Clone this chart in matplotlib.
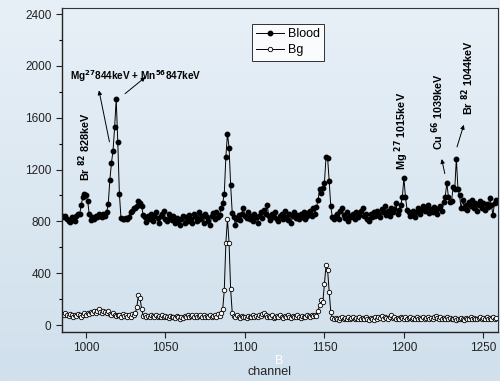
import numpy as np
import matplotlib
matplotlib.use('Agg')
import matplotlib.pyplot as plt

plt.rcParams['font.family'] = ['Liberation Sans', 'DejaVu Sans']

# channels 985 .. 1258
CH_START = 985

blood = [
    840, 830, 845, 820, 800, 795, 830, 815, 805, 845,
    860, 855, 925, 990, 1010, 1000, 960, 860, 810, 830,
    820, 845, 835, 860, 845, 830, 860, 845, 870, 935,
    1120, 1250, 1345, 1525, 1745, 1410, 1015, 825, 820, 815,
    825, 820, 835, 870, 880, 900, 905, 920, 960, 940,
    915, 850, 830, 795, 845, 815, 860, 800, 840, 870,
    825, 790, 845, 860, 880, 820, 800, 855, 835, 810,
    845, 790, 825, 800, 770, 815, 840, 790, 830, 805,
    850, 820, 785, 860, 830, 800, 875, 815, 840, 790,
    855, 830, 800, 775, 840, 865, 815, 870, 830, 850,
    900, 940, 1015, 1300, 1475, 1370, 1080, 865, 830, 775,
    820, 850, 810, 860, 905, 840, 825, 870, 815, 845,
    800, 855, 830, 790, 845, 870, 825, 890, 860, 925,
    840, 810, 860, 830, 875, 815, 800, 845, 860, 820,
    880, 835, 810, 855, 790, 840, 870, 825, 850, 815,
    860, 835, 875, 820, 845, 870, 880, 845, 900, 860,
    910, 965, 1050, 1020, 1060, 1100, 1295, 1290, 1110, 915,
    830, 820, 845, 860, 815, 880, 905, 850, 825, 870,
    800, 845, 830, 860, 815, 870, 835, 850, 880, 905,
    840, 860, 820, 800, 855, 830, 870, 845, 880, 860,
    830, 895, 870, 915, 850, 880, 840, 905, 870, 895,
    940, 860, 885, 925, 985, 1135, 985, 890, 870, 845,
    850, 880, 835, 870, 900, 860, 890, 915, 880, 905,
    930, 865, 895, 870, 910, 885, 860, 900, 915, 880,
    950, 990, 1095, 990, 950, 960, 1065, 1050, 1285, 1050,
    1000, 900, 965, 905, 930, 885, 950, 920, 965, 900,
    945, 880, 925, 960, 905, 940, 890, 935, 910, 980,
    925, 850, 940, 965,
]

bg = [
    85, 75, 90, 80, 70, 85, 75, 65, 80, 70,
    85, 75, 65, 80, 90, 75, 95, 85, 100, 90,
    105, 95, 110, 125, 100, 95, 110, 100, 90, 105,
    85, 80, 90, 75, 70, 80, 75, 65, 85, 70,
    80, 60, 75, 65, 85, 75, 90, 140, 230, 205,
    125, 70, 75, 65, 70, 60, 75, 70, 65, 75,
    60, 70, 65, 80, 60, 70, 65, 55, 70, 60,
    65, 55, 70, 60, 50, 65, 55, 70, 65, 75,
    60, 70, 80, 65, 75, 60, 70, 80, 65, 75,
    65, 70, 60, 75, 65, 70, 75, 60, 85, 70,
    90, 120, 270, 635, 820, 635, 275, 95, 70, 60,
    75, 65, 55, 70, 60, 65, 55, 70, 60, 65,
    75, 60, 70, 65, 80, 70, 85, 95, 75, 65,
    70, 60, 75, 55, 65, 70, 60, 75, 65, 55,
    70, 60, 75, 65, 55, 70, 60, 65, 75, 60,
    55, 70, 65, 60, 75, 70, 65, 75, 70, 80,
    70, 110, 155, 190, 175, 320, 460, 425, 255, 100,
    55, 45, 55, 50, 40, 55, 60, 45, 55, 50,
    60, 45, 55, 65, 50, 55, 45, 60, 50, 55,
    45, 60, 50, 40, 55, 45, 35, 60, 50, 65,
    55, 70, 50, 60, 55, 45, 65, 75, 55, 60,
    50, 55, 45, 60, 55, 50, 65, 45, 55, 60,
    50, 55, 45, 60, 50, 55, 45, 60, 50, 55,
    60, 50, 55, 45, 60, 70, 55, 50, 60, 45,
    55, 50, 60, 45, 55, 50, 45, 55, 40, 50,
    45, 55, 50, 40, 55, 45, 50, 60, 45, 55,
    50, 45, 55, 60, 45, 55, 50, 60, 45, 55,
    50, 60, 45, 55,
]

x_ticks = [1000, 1050, 1100, 1150, 1200, 1250]
y_ticks = [0, 400, 800, 1200, 1600, 2000, 2400]


def main():
    channel = np.arange(CH_START, CH_START + len(blood))

    fig = plt.figure(figsize=(5.0, 3.81), dpi=100)

    # light blue gradient background over the whole figure
    bg_ax = fig.add_axes([0, 0, 1, 1], zorder=-10)
    grad = np.linspace(0, 1, 256).reshape(-1, 1)
    top = np.array([232, 240, 247]) / 255.0
    bot = np.array([208, 224, 236]) / 255.0
    img = top[None, None, :] * (1 - grad[:, :, None]) + bot[None, None, :] * grad[:, :, None]
    bg_ax.imshow(img, aspect='auto', extent=[0, 1, 0, 1])
    bg_ax.axis('off')

    ax = fig.add_axes([0.124, 0.1286, 0.872, 0.850])
    ax.patch.set_alpha(0)

    ax.plot(channel, blood, '-o', color='black', lw=0.7, ms=3.2,
            mfc='black', mec='black', label='Blood')
    ax.plot(channel, bg, '-o', color='black', lw=0.7, ms=3.2,
            mfc='white', mec='black', mew=0.6, label='Bg')

    ax.set_xlim(984.9, 1259.2)
    ax.set_ylim(-54, 2446)
    ax.set_xticks(x_ticks)
    ax.set_yticks(y_ticks)
    ax.set_yticks(np.arange(200, 2400, 400), minor=True)
    ax.tick_params(axis='both', which='major', direction='out', length=4,
                   width=0.8, labelsize=8.5, colors='#222222')
    ax.tick_params(axis='y', which='minor', direction='out', length=2.5, width=0.8)
    ax.tick_params(top=False, right=False)
    for s in ['left', 'bottom']:
        ax.spines[s].set_linewidth(1.0)
        ax.spines[s].set_color('#222222')
    for s in ['top', 'right']:
        ax.spines[s].set_linewidth(0.8)
        ax.spines[s].set_color('#333333')

    leg = ax.legend(loc='upper left', bbox_to_anchor=(0.436, 0.951),
                    fontsize=9, frameon=True, fancybox=False,
                    handlelength=2.2, handletextpad=0.3, borderpad=0.35,
                    labelspacing=0.3, borderaxespad=0)
    leg.get_frame().set_edgecolor('black')
    leg.get_frame().set_linewidth(0.7)

    fs = 7.2
    fr = 7.8
    ax.text(999, 1110, r'Br $^{\mathbf{82}}$ 828keV', rotation=90, ha='center',
            va='bottom', fontsize=fr, fontweight='bold')
    ax.text(990, 1920, r'Mg$^{\mathbf{27}}$844keV + Mn$^{\mathbf{56}}$847keV',
            ha='left', va='center', fontsize=fs, fontweight='bold')
    ax.text(1198.7, 1200, r'Mg $^{\mathbf{27}}$ 1015keV', rotation=90, ha='center',
            va='bottom', fontsize=fr, fontweight='bold')
    ax.text(1221.5, 1354, r'Cu $^{\mathbf{66}}$ 1039keV', rotation=90, ha='center',
            va='bottom', fontsize=fr, fontweight='bold')
    ax.text(1240.3, 1625, r'Br $^{\mathbf{82}}$ 1044keV', rotation=90, ha='center',
            va='bottom', fontsize=fr, fontweight='bold')

    arrow = dict(arrowstyle='-|>', color='black', lw=0.7, mutation_scale=6)
    ax.annotate('', xy=(1007.8, 1832), xytext=(1015.1, 1393), arrowprops=arrow)
    ax.annotate('', xy=(1038.7, 1927), xytext=(1023.2, 1772), arrowprops=arrow)
    ax.annotate('', xy=(1223.4, 1302), xytext=(1226.1, 1148), arrowprops=arrow)
    ax.annotate('', xy=(1238.2, 1566), xytext=(1232.9, 1354), arrowprops=arrow)

    fig.text(0.54, 1 - 372 / 381, 'channel', ha='center', va='center',
             fontsize=9, color='#222222')
    fig.text(279 / 500, 1 - 361 / 381, 'B', ha='center', va='center',
             fontsize=9, color='white')

    fig.savefig('out.png', dpi=100)


# --------------------
if __name__ == '__main__':
    main()
